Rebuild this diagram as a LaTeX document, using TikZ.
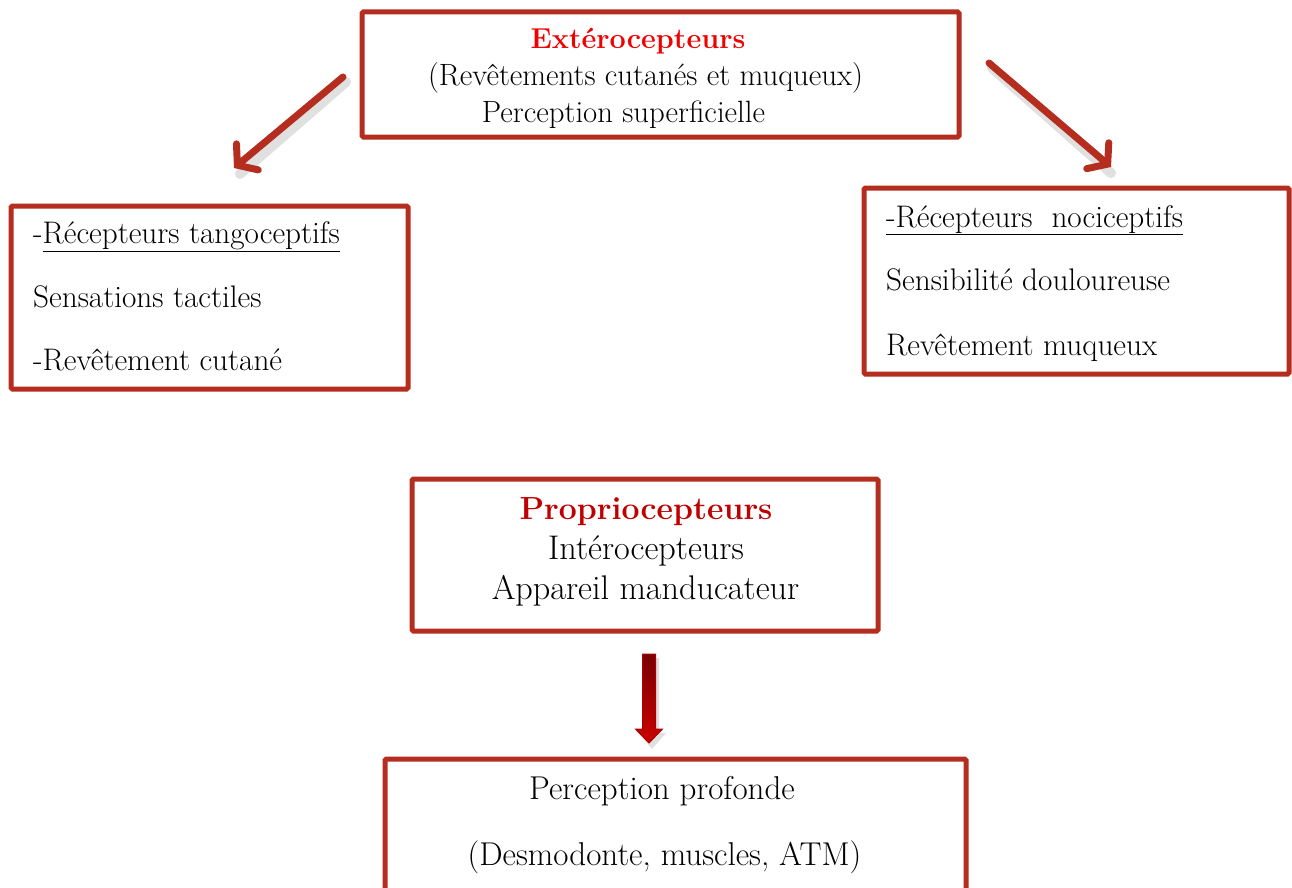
\documentclass[tikz,border=0pt]{standalone}
\usetikzlibrary{arrows.meta,calc}
\definecolor{boxred}{RGB}{180,45,30}
\definecolor{titlered}{RGB}{240,0,0}
\definecolor{darkred}{RGB}{192,0,0}
\tikzset{
  box/.style={draw=boxred, line width=5pt, rounded corners=1.5pt, fill=white, inner sep=0pt},
  txtA/.style={font=\fontsize{30.8}{35}\selectfont, inner sep=0pt},
  txtB/.style={font=\fontsize{31.2}{35}\selectfont, inner sep=0pt},
  txtC/.style={font=\fontsize{34.2}{38}\selectfont, inner sep=0pt},
  txtD/.style={font=\fontsize{33}{38}\selectfont, inner sep=0pt},
  titleA/.style={font=\fontsize{28.8}{35}\selectfont\bfseries, inner sep=0pt, text=titlered},
  titleC/.style={font=\fontsize{32}{38}\selectfont\bfseries, inner sep=0pt, text=darkred},
  slant/.style={draw=boxred, line width=7pt, line cap=round, -{Straight Barb[length=13pt,width=34pt,line cap=round]}},
  slantshadow/.style={draw=black, opacity=0.12, line width=10pt, line cap=round},
}
\begin{document}
\begin{tikzpicture}[x=1pt,y=-1pt]
\useasboundingbox (0,0) rectangle (1292,888);
\clip (0,0) rectangle (1292,888);
% boxes
\node[box, minimum width=597pt, minimum height=125pt] (ext) at (660.5,74.5) {};
\node[box, minimum width=397pt, minimum height=183pt] (tang) at (209.5,297.5) {};
\node[box, minimum width=425pt, minimum height=186pt] (noci) at (1076.5,281) {};
\node[box, minimum width=466pt, minimum height=152pt] (prop) at (645,555) {};
\node[box, minimum width=581pt, minimum height=150pt] (prof) at (675.5,834) {};
% top box text
\node[titleA, anchor=base] (t1) at (638,49) {Extérocepteurs};
\node[txtA, anchor=base] (t2) at (645.5,86) {(Revêtements cutanés et muqueux)};
\node[txtA, anchor=base] (t3) at (623.5,122) {Perception superficielle};
% left box text
\node[txtB, anchor=base west] (l1) at (33,243) {-\underline{Récepteurs tangoceptifs}};
\node[txtB, anchor=base west] (l2) at (33,307) {Sensations tactiles};
\node[txtB, anchor=base west] (l3) at (33,370) {-Revêtement cutané};
% right box text
\node[txtB, anchor=base west] (r1) at (886,227) {\underline{-Récepteurs\ \ nociceptifs}};
\node[txtB, anchor=base west] (r2) at (886,290) {Sensibilité douloureuse};
\node[txtB, anchor=base west] (r3) at (886,355) {Revêtement muqueux};
% middle box text
\node[titleC, anchor=base] (m1) at (646,519) {Propriocepteurs};
\node[txtC, anchor=base] (m2) at (646,559) {Intérocepteurs};
\node[txtC, anchor=base] (m3) at (645.5,599) {Appareil manducateur};
% bottom box text
\node[txtD, anchor=base] (b1) at (662,799) {Perception profonde};
\node[txtD, anchor=base] (b2) at (664.5,865) {(Desmodonte, muscles, ATM)};
% arrow end points
\coordinate (la0) at (343,77);
\coordinate (la1) at (234,168);
\coordinate (ra0) at (989,63);
\coordinate (ra1) at (1111,167);
\coordinate (da0) at (649,654);
\coordinate (da1) at (649,743);
% shadows
\draw[slantshadow] ($(la0)+(3,5)$) -- ($(la1)+(6,6)$);
\draw[slantshadow] ($(ra0)+(3,5)$) -- ($(ra1)+(0,6)$);
% slanted arrows
\draw[slant] (la0) -- (la1);
\draw[slant] (ra0) -- (ra1);
% block down arrow
\fill[black, opacity=0.12] ($(da0)+(-4,4)$) -- ($(da0)+(10,4)$) -- ($(da1)+(10,-10)$) -- ($(da1)+(17,-10)$) -- ($(da1)+(3,6)$) -- ($(da1)+(-11,-10)$) -- ($(da1)+(-4,-10)$) -- cycle;
\shade[top color={rgb,255:red,120;green,0;blue,0}, bottom color={rgb,255:red,205;green,0;blue,0}, draw={rgb,255:red,170;green,0;blue,0}, line width=1pt]
  ($(da0)+(-6.5,0)$) -- ($(da0)+(6.5,0)$) -- ($(da1)+(6.5,-14)$) -- ($(da1)+(13.5,-14)$) -- (da1) -- ($(da1)+(-13.5,-14)$) -- ($(da1)+(-6.5,-14)$) -- cycle;
\end{tikzpicture}
\end{document}
